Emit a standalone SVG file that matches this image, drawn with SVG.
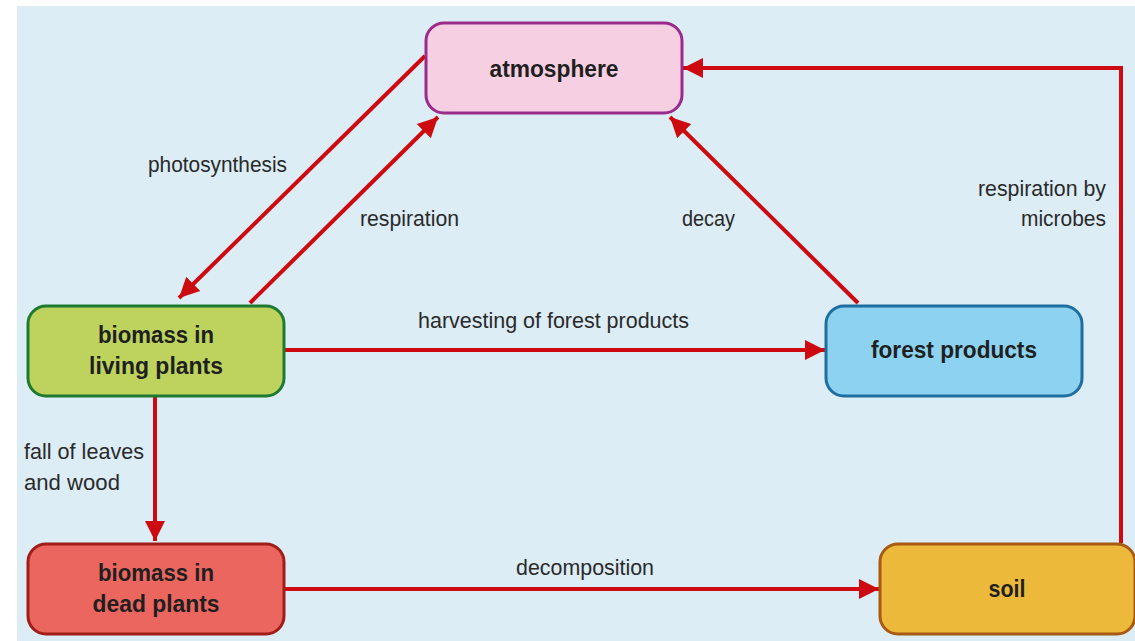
<svg xmlns="http://www.w3.org/2000/svg" width="1135" height="641" viewBox="0 0 1135 641">
<style>
.node{stroke-width:3}
.nl{font-family:"Liberation Sans",Arial,sans-serif;font-weight:bold;font-size:24px;fill:#1f1f1f;text-anchor:middle}
.el{font-family:"Liberation Sans",Arial,sans-serif;font-size:22px;fill:#2a2a2a}
.c{stroke:#cc0a10;stroke-width:4;fill:none}
</style>
<defs>
<marker id="ah" markerUnits="userSpaceOnUse" markerWidth="22" markerHeight="22" refX="20" refY="11" orient="auto">
<path d="M0,1 L20,11 L0,21 Z" fill="#cc0a10"/>
</marker>
</defs>
<rect x="0" y="0" width="1135" height="641" fill="#ffffff"/>
<rect x="17" y="6" width="1118" height="635" fill="#dcedf5"/>
<g id="connectors">
<line class="c" x1="425" y1="56" x2="179" y2="298" marker-end="url(#ah)"/>
<line class="c" x1="250" y1="303" x2="438" y2="117" marker-end="url(#ah)"/>
<line class="c" x1="858" y1="303" x2="670" y2="117" marker-end="url(#ah)"/>
<line class="c" x1="285" y1="350" x2="825" y2="350" marker-end="url(#ah)"/>
<line class="c" x1="155" y1="397" x2="155" y2="541" marker-end="url(#ah)"/>
<line class="c" x1="285" y1="589" x2="879" y2="589" marker-end="url(#ah)"/>
<polyline class="c" points="1121,543 1121,68 683,68" marker-end="url(#ah)"/>
<text class="el" x="148" y="172" textLength="139" lengthAdjust="spacingAndGlyphs">photosynthesis</text>
<text class="el" x="360" y="226" textLength="99" lengthAdjust="spacingAndGlyphs">respiration</text>
<text class="el" x="682" y="226" textLength="53" lengthAdjust="spacingAndGlyphs">decay</text>
<text class="el" x="1106" y="196" text-anchor="end" textLength="128" lengthAdjust="spacingAndGlyphs">respiration by</text>
<text class="el" x="1106" y="226" text-anchor="end" textLength="85" lengthAdjust="spacingAndGlyphs">microbes</text>
<text class="el" x="418" y="328" textLength="271" lengthAdjust="spacingAndGlyphs">harvesting of forest products</text>
<text class="el" x="24" y="459" textLength="120" lengthAdjust="spacingAndGlyphs">fall of leaves</text>
<text class="el" x="24" y="490" textLength="96" lengthAdjust="spacingAndGlyphs">and wood</text>
<text class="el" x="516" y="575" textLength="138" lengthAdjust="spacingAndGlyphs">decomposition</text>
</g>
<g id="atmosphere">
<rect class="node" x="426" y="23" width="256" height="90" rx="18" fill="#f6d0e2" stroke="#9b2a8a"/>
<text class="nl" x="554" y="77" textLength="129" lengthAdjust="spacingAndGlyphs">atmosphere</text>
</g>
<g id="living">
<rect class="node" x="28" y="306" width="256" height="90" rx="18" fill="#bdd35e" stroke="#1e7a30"/>
<text class="nl" x="156" y="343" textLength="116" lengthAdjust="spacingAndGlyphs">biomass in</text>
<text class="nl" x="156" y="374" textLength="134" lengthAdjust="spacingAndGlyphs">living plants</text>
</g>
<g id="forest">
<rect class="node" x="826" y="306" width="256" height="90" rx="18" fill="#8dd3f1" stroke="#1e6fa0"/>
<text class="nl" x="954" y="358" textLength="166" lengthAdjust="spacingAndGlyphs">forest products</text>
</g>
<g id="dead">
<rect class="node" x="28" y="544" width="256" height="90" rx="18" fill="#ec6660" stroke="#a01d18"/>
<text class="nl" x="156" y="581" textLength="116" lengthAdjust="spacingAndGlyphs">biomass in</text>
<text class="nl" x="156" y="612" textLength="127" lengthAdjust="spacingAndGlyphs">dead plants</text>
</g>
<g id="soil">
<rect class="node" x="880" y="544" width="255" height="90" rx="18" fill="#ecb93a" stroke="#a85a13"/>
<text class="nl" x="1007" y="597" textLength="37" lengthAdjust="spacingAndGlyphs">soil</text>
</g>
</svg>
